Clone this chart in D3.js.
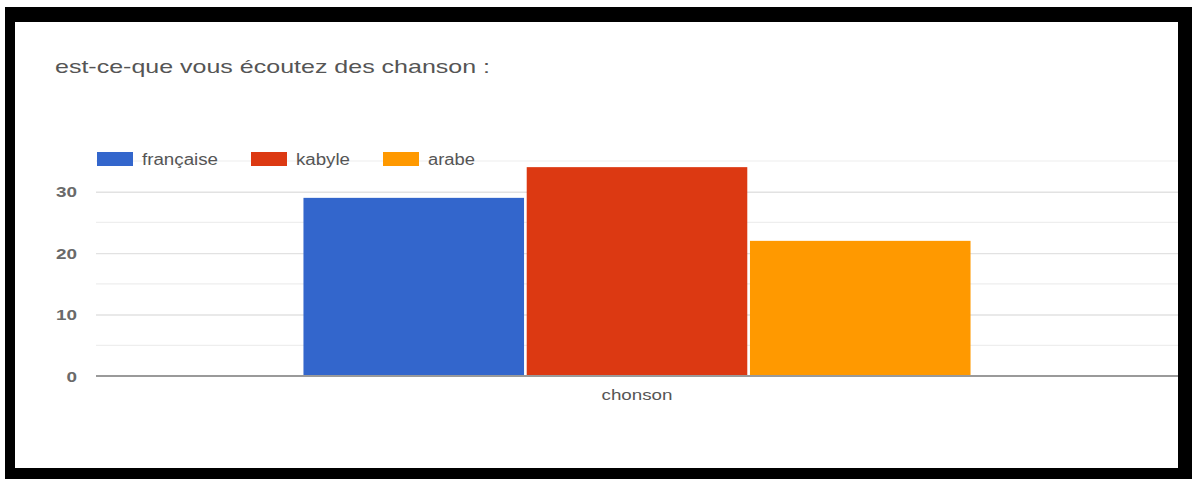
<!DOCTYPE html>
<html>
<head>
<meta charset="utf-8">
<script src="https://cdn.jsdelivr.net/npm/d3@7"></script>
<style>
  html, body { margin: 0; padding: 0; background: #fff; }
  svg { display: block; font-family: "Liberation Sans", Arial, sans-serif; }
</style>
</head>
<body>
<svg id="chart" width="1192" height="479"></svg>
<script>
// ---- data ----
const title = "est-ce-que vous écoutez des chanson :";
const categories = ["chonson"];
const seriesNames = ["française", "kabyle", "arabe"];
const seriesValues = [[29], [34], [22]];
const tickValues = [0, 10, 20, 30];
const gridValues = [5, 15, 25, 35];
const colors = ["#3366cc", "#dc3912", "#ff9900"];

const svg = d3.select("#chart");
const W = 1192, H = 479;

// frame
svg.append("rect").attr("x", 5).attr("y", 7).attr("width", W - 5).attr("height", H - 7).attr("fill", "#000");
svg.append("rect").attr("x", 15).attr("y", 22).attr("width", 1178 - 15).attr("height", 468 - 22).attr("fill", "#fff");

const plot = { left: 96, right: 1178, top: 161, bottom: 376 };

const y = d3.scaleLinear().domain([0, 35]).range([plot.bottom, plot.top]);
const x0 = d3.scaleBand().domain(categories).range([plot.left, plot.right]).paddingInner(0).paddingOuter(0.311);
const x1 = d3.scaleBand().domain(seriesNames).range([0, x0.bandwidth()]).paddingInner(0.012).paddingOuter(0);

// minor gridlines
svg.append("g").selectAll("line").data(gridValues).join("line")
  .attr("x1", plot.left).attr("x2", plot.right)
  .attr("y1", d => y(d)).attr("y2", d => y(d))
  .attr("stroke", "#eeeeee").attr("stroke-width", 1.2);

// major gridlines via axis
const yAxis = d3.axisLeft(y).tickValues(tickValues).tickSize(-(plot.right - plot.left)).tickPadding(19);
const gy = svg.append("g").attr("transform", `translate(${plot.left},0)`).call(yAxis);
gy.select(".domain").remove();
gy.selectAll(".tick line").attr("stroke", d => d === 0 ? "none" : "#e2e2e2").attr("stroke-width", 1.4);
gy.selectAll(".tick text").attr("fill", "#6a6a6a").attr("font-size", 15).attr("font-weight", "bold")
  .attr("font-family", "'Liberation Sans', Arial, sans-serif").attr("dy", "0.35em")
  .attr("textLength", d => String(d).length * 10.5).attr("lengthAdjust", "spacingAndGlyphs");

// bars
const groups = svg.append("g").selectAll("g").data(categories).join("g")
  .attr("transform", d => `translate(${x0(d)},0)`);
groups.selectAll("rect").data((c, ci) => seriesNames.map((s, si) => ({ s, si, v: seriesValues[si][ci] })))
  .join("rect")
  .attr("x", d => x1(d.s)).attr("width", x1.bandwidth())
  .attr("y", d => y(d.v)).attr("height", d => y(0) - y(d.v))
  .attr("fill", d => colors[d.si]);

// baseline
svg.append("line").attr("x1", plot.left).attr("x2", plot.right)
  .attr("y1", y(0)).attr("y2", y(0)).attr("stroke", "#9a9a9a").attr("stroke-width", 2);

// x axis label
const xAxis = d3.axisBottom(x0).tickSize(0).tickPadding(13);
const gx = svg.append("g").attr("transform", `translate(0,${plot.bottom})`).call(xAxis);
gx.select(".domain").remove();
gx.selectAll(".tick text").attr("fill", "#555").attr("font-size", 15)
  .attr("font-family", "'Liberation Sans', Arial, sans-serif")
  .attr("textLength", 71).attr("lengthAdjust", "spacingAndGlyphs");

// title
svg.append("text").attr("x", 55).attr("y", 73).text(title)
  .attr("fill", "#555").attr("font-size", 19)
  .attr("textLength", 435).attr("lengthAdjust", "spacingAndGlyphs");

// legend
const legendX = [97, 251, 383];
const legendW = [76, 54, 47];
const lg = svg.append("g").selectAll("g").data(seriesNames).join("g")
  .attr("transform", (d, i) => `translate(${legendX[i]},152)`);
lg.append("rect").attr("width", 36).attr("height", 14).attr("fill", (d, i) => colors[i]);
lg.append("text").attr("x", 45).attr("y", 12.5).text(d => d)
  .attr("fill", "#555").attr("font-size", 16)
  .attr("textLength", (d, i) => legendW[i]).attr("lengthAdjust", "spacingAndGlyphs");
</script>
</body>
</html>
